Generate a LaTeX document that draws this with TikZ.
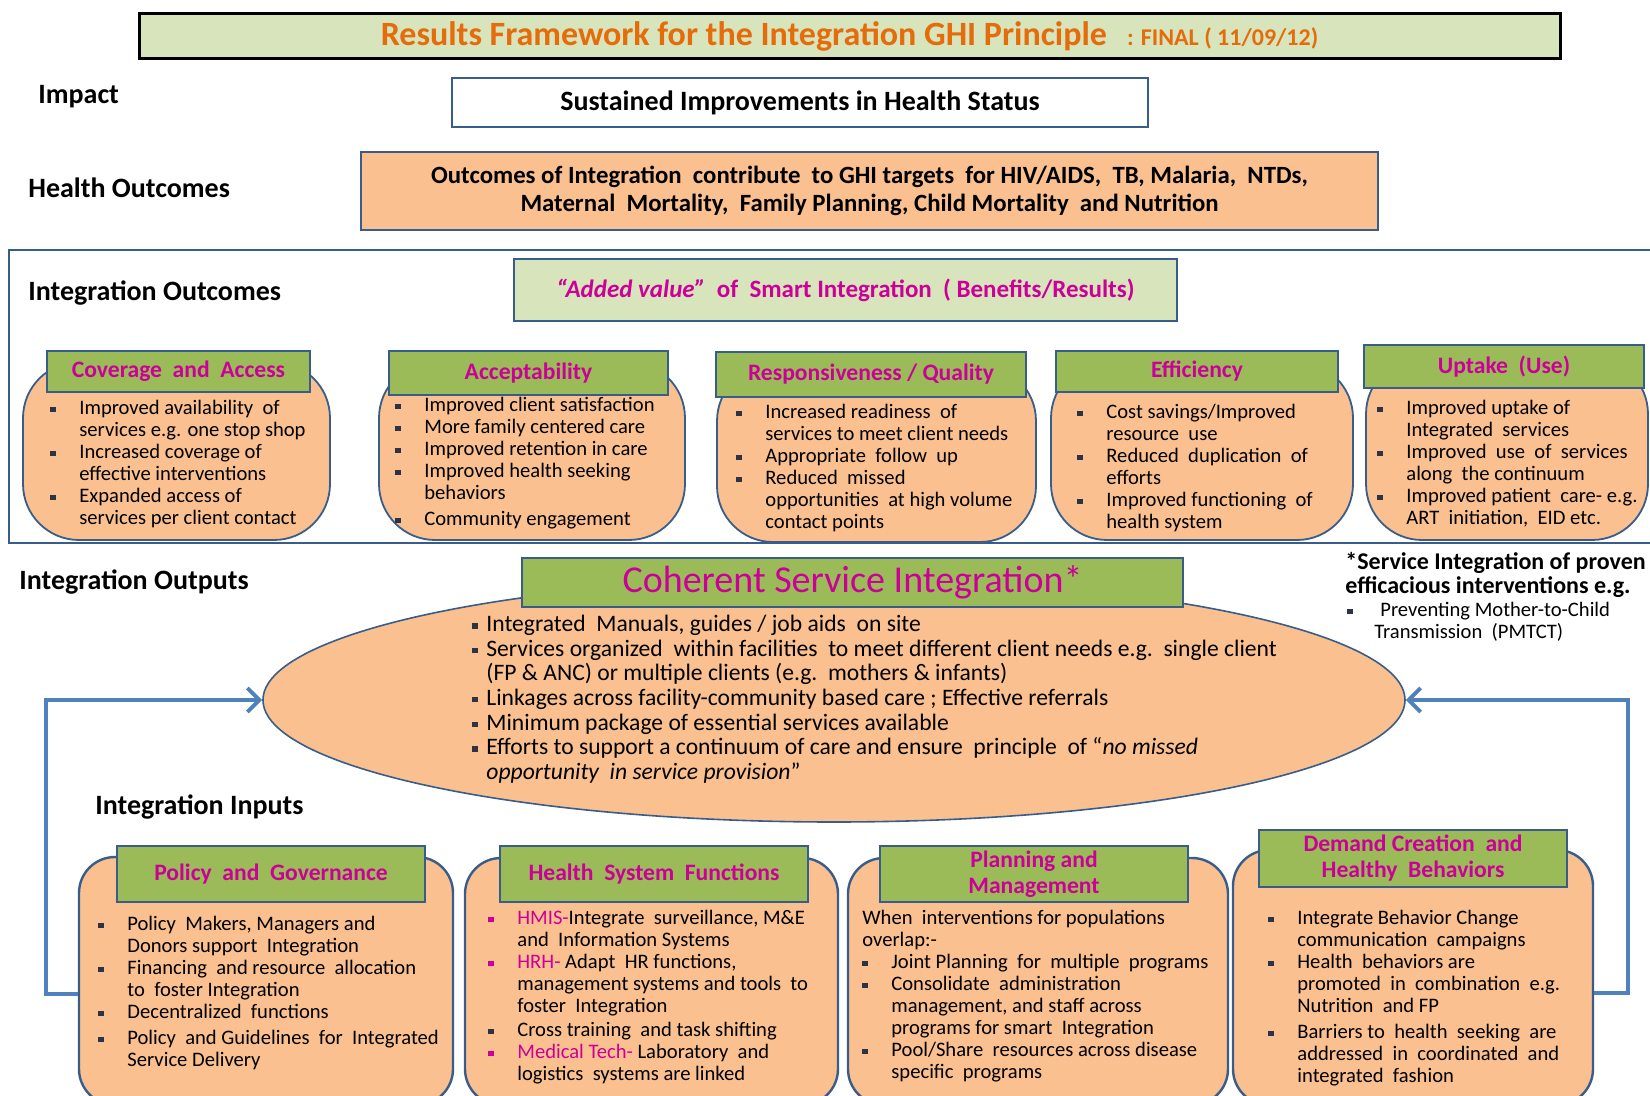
\documentclass[tikz,border=0pt]{standalone}
\usepackage{fontspec}
\setmainfont{Carlito}
\usetikzlibrary{shapes.geometric,arrows.meta,calc}

\definecolor{frameblue}{RGB}{56,93,138}
\definecolor{hdrgreen}{RGB}{155,187,89}
\definecolor{palegreen}{RGB}{216,228,188}
\definecolor{fillorange}{RGB}{250,192,144}
\definecolor{magentatxt}{RGB}{204,0,153}
\definecolor{arrowblue}{RGB}{79,129,189}
\definecolor{titleorange}{RGB}{228,108,10}
\definecolor{bulletdark}{RGB}{45,50,70}

\newcommand\sqbul[1][bulletdark]{\makebox[14.5pt][l]{\textcolor{#1}{\rule[1.4pt]{2.6pt}{2.6pt}}}}
\newcommand\sqind{\hspace*{14.5pt}}
\newcommand\elbul{\makebox[7pt][l]{\textcolor{bulletdark}{\rule[1.6pt]{2.6pt}{2.6pt}}}}
\newcommand\elind{\hspace*{7pt}}

\begin{document}
\begin{tikzpicture}[x=0.5pt,y=-0.5pt,
    lbl/.style={anchor=west,inner sep=0pt,font=\fontsize{14}{16}\selectfont\bfseries},
    hdr/.style={draw=frameblue,line width=1.3pt,fill=hdrgreen,text=magentatxt,inner sep=0pt,align=center,font=\fontsize{11.8}{13}\selectfont\bfseries},
    obody/.style={draw=frameblue,line width=0.9pt,fill=fillorange,rounded corners=28pt,inner sep=0pt},
    ibody/.style={draw=frameblue,line width=1.2pt,fill=fillorange,rounded corners=18pt,inner sep=0pt},
    itxt/.style={anchor=north west,inner sep=0pt,align=left,font=\fontsize{10.3}{11}\selectfont},
    feedback/.style={draw=arrowblue,line width=2pt,-{Straight Barb[length=6pt,width=12pt]}}]

    % 画布
    \useasboundingbox (0,0) rectangle (1650,1096);
    \clip (0,0) rectangle (1650,1096);

    % 标题
    \node[draw=black,line width=1.5pt,fill=palegreen,minimum width=710.5pt,minimum height=22.5pt,inner sep=0pt,text=titleorange,font=\bfseries] (title) at (849.5,36.5)
        {{\fontsize{17}{19}\selectfont Results Framework for the Integration GHI Principle}\quad{\fontsize{12}{14}\selectfont : FINAL ( 11/09/12)}};

    % Impact
    \node[lbl] (impactlbl) at (38,97) {Impact};
    \node[draw=frameblue,line width=1pt,fill=white,minimum width=348pt,minimum height=24.5pt,inner sep=0pt,font=\fontsize{14}{16}\selectfont\bfseries] (impact) at (800,102.5)
        {Sustained Improvements in Health Status};

    % Health Outcomes
    \node[lbl] (healthlbl) at (28,188) {Health Outcomes};
    \node[draw=frameblue,line width=1pt,fill=fillorange,minimum width=508.5pt,minimum height=39pt,inner sep=0pt,align=center,font=\fontsize{12.4}{14.2}\selectfont\bfseries] (health) at (869.5,191)
        {Outcomes of Integration\ \ contribute\ \ to GHI\ targets\ \ for HIV/AIDS,\ \ TB, Malaria,\ \ NTDs,\\Maternal\ \ Mortality,\ \ Family Planning, Child Mortality\ \ and Nutrition};

    % Integration Outcomes 外框
    \draw[frameblue,line width=1.3pt] (9,250) rectangle (1700,543);
    \node[lbl] (outcomelbl) at (28,293) {Integration Outcomes};
    \node[draw=frameblue,line width=1.3pt,fill=palegreen,minimum width=331.5pt,minimum height=31pt,inner sep=0pt,text=magentatxt,font=\fontsize{12.5}{14}\selectfont\bfseries] (added) at (845.5,290)
        {\textit{“Added value”}\ \ of\ \ Smart Integration\ \ ( Benefits/Results)};

    % 五个结果框
    \node[obody,minimum width=153.5pt,minimum height=89pt] (covbody) at (176.5,451) {};
    \node[hdr,minimum width=131.5pt,minimum height=20.5pt] (cov) at (178.5,371.5) {Coverage\ \ and\ \ Access};
    \node[itxt] (covtxt) at (50,400) {\sqbul Improved availability\ \ of\\\sqind services e.g. one stop shop\\\sqbul Increased coverage of\\\sqind effective interventions\\\sqbul Expanded access of\\\sqind services per client contact};

    \node[obody,minimum width=153pt,minimum height=89pt] (accbody) at (532,451) {};
    \node[hdr,minimum width=139.5pt,minimum height=22pt] (acc) at (528.5,373) {Acceptability};
    \node[itxt] (acctxt) at (395,397) {\sqbul Improved client satisfaction\\\sqbul More family centered care\\\sqbul Improved retention in care\\\sqbul Improved health seeking\\\sqind behaviors\\[2pt]\sqbul Community engagement};

    \node[obody,minimum width=159.5pt,minimum height=88.5pt] (respbody) at (876.5,453.5) {};
    \node[hdr,minimum width=155pt,minimum height=22.5pt] (resp) at (871,374.5) {Responsiveness / Quality};
    \node[itxt] (resptxt) at (736,404) {\sqbul Increased readiness\ \ of\\\sqind services to meet client needs\\\sqbul Appropriate\ \ follow\ \ up\\\sqbul Reduced\ \ missed\\\sqind opportunities\ \ at high volume\\\sqind contact points};

    \node[obody,minimum width=151pt,minimum height=89pt] (effbody) at (1202,451) {};
    \node[hdr,minimum width=141pt,minimum height=20.5pt] (eff) at (1197,371.5) {Efficiency};
    \node[itxt] (efftxt) at (1077,404) {\sqbul Cost savings/Improved\\\sqind resource\ \ use\\\sqbul Reduced\ \ duplication\ \ of\\\sqind efforts\\\sqbul Improved functioning\ \ of\\\sqind health system};

    \node[obody,minimum width=141pt,minimum height=91pt] (upbody) at (1507,449) {};
    \node[hdr,minimum width=140pt,minimum height=21.5pt] (up) at (1504,366.5) {Uptake\ \ (Use)};
    \node[itxt] (uptxt) at (1377,400) {\sqbul Improved uptake of\\\sqind Integrated\ \ services\\\sqbul Improved\ \ use\ \ of\ \ services\\\sqind along\ \ the continuum\\\sqbul Improved patient\ \ care- e.g.\\\sqind ART\ \ initiation,\ \ EID etc.};

    % Integration Outputs 椭圆
    \node[lbl] (outputlbl) at (19,582) {Integration Outputs};
    \node[ellipse,draw=frameblue,line width=0.8pt,fill=fillorange,minimum width=571pt,minimum height=122pt,inner sep=0pt] (ell) at (834,700) {};
    \node[hdr,minimum width=330.5pt,minimum height=24.5pt,font=\fontsize{19}{21}\selectfont] (coherent) at (852.5,582.5) {Coherent Service Integration*};
    \node[itxt,font=\fontsize{11.8}{12.3}\selectfont] (elltxt) at (472,615)
        {\elbul Integrated\ \ Manuals, guides / job aids\ \ on site\\
         \elbul Services organized\ \ within facilities\ \ to meet different client needs e.g.\ \ single client\\
         \elind (FP \& ANC) or multiple clients (e.g.\ \ mothers \& infants)\\
         \elbul Linkages across facility-community based care ; Effective referrals\\
         \elbul Minimum package of essential services available\\
         \elbul Efforts to support a continuum of care and ensure\ \ principle\ \ of “\textit{no missed}\\
         \elind\textit{opportunity\ \ in service provision}”};

    % 注释
    \node[itxt,font=\fontsize{12}{12}\selectfont\bfseries] (note) at (1345,552) {*Service Integration of proven\\efficacious interventions e.g.};
    \node[itxt,font=\fontsize{10.3}{11}\selectfont] (notebul) at (1347,602) {\makebox[16.5pt][l]{\textcolor{bulletdark}{\rule[1.4pt]{2.6pt}{2.6pt}}}Preventing Mother-to-Child\\\hspace*{13.5pt}Transmission\ \ (PMTCT)};

    % Integration Inputs 四个框
    \node[lbl] (inputlbl) at (95,807) {Integration Inputs};

    \node[ibody,minimum width=187pt,minimum height=124pt] (policy) at (266,981) {};
    \node[hdr,minimum width=154pt,minimum height=28pt] (policyhdr) at (271,874) {Policy\ \ and\ \ Governance};
    \node[itxt] (policytxt) at (98,916) {\sqbul Policy\ \ Makers, Managers and\\\sqind Donors support\ \ Integration\\\sqbul Financing\ \ and resource\ \ allocation\\\sqind to\ \ foster Integration\\\sqbul Decentralized\ \ functions\\[2pt]\sqbul Policy\ \ and Guidelines\ \ for\ \ Integrated\\\sqind Service Delivery};

    \node[ibody,minimum width=186.5pt,minimum height=123.5pt] (hsf) at (651.5,981.5) {};
    \node[hdr,minimum width=154pt,minimum height=28pt] (hsfhdr) at (654,874) {Health\ \ System\ \ Functions};
    \node[itxt] (hsftxt) at (488,910) {\sqbul[magentatxt]\textcolor{magentatxt}{HMIS-}Integrate\ \ surveillance, M\&E\\\sqind and\ \ Information Systems\\\sqbul[magentatxt]\textcolor{magentatxt}{HRH-} Adapt\ \ HR functions,\\\sqind management systems and tools\ \ to\\\sqind foster\ \ Integration\\[1pt]\sqbul Cross\ training\ \ and task shifting\\\sqbul[magentatxt]\textcolor{magentatxt}{Medical Tech-} Laboratory\ \ and\\\sqind logistics\ \ systems are linked};

    \node[ibody,minimum width=190pt,minimum height=123.5pt] (plan) at (1038,981.5) {};
    \node[hdr,minimum width=154pt,minimum height=28pt] (planhdr) at (1034,874) {Planning and\\Management};
    \node[itxt] (plantxt) at (862,910) {When\ \ interventions for populations\\overlap:-\\\sqbul Joint Planning\ \ for\ \ multiple\ \ programs\\\sqbul Consolidate\ \ administration\\\sqind management, and staff across\\\sqind programs for smart\ \ Integration\\\sqbul Pool/Share\ \ resources across disease\\\sqind specific\ \ programs};

    \node[ibody,minimum width=180pt,minimum height=127.5pt] (demand) at (1413,977.5) {};
    \node[hdr,minimum width=154pt,minimum height=28.5pt] (demandhdr) at (1413,858.5) {Demand Creation\ \ and\\Healthy\ \ Behaviors};
    \node[itxt] (demandtxt) at (1268,910) {\sqbul Integrate Behavior Change\\\sqind communication\ \ campaigns\\\sqbul Health\ \ behaviors are\\\sqind promoted\ \ in\ \ combination\ \ e.g.\\\sqind Nutrition\ \ and FP\\[2pt]\sqbul Barriers to\ \ health\ \ seeking\ \ are\\\sqind addressed\ \ in\ \ coordinated\ \ and\\\sqind integrated\ \ fashion};

    % 反馈箭头
    \draw[feedback] ($(policy.west)+(0,13)$) -- ++(-32,0) |- (ell.west);
    \draw[feedback] ($(demand.east)+(0,15)$) -- ++(34,0) |- (ell.east);

\end{tikzpicture}
\end{document}
